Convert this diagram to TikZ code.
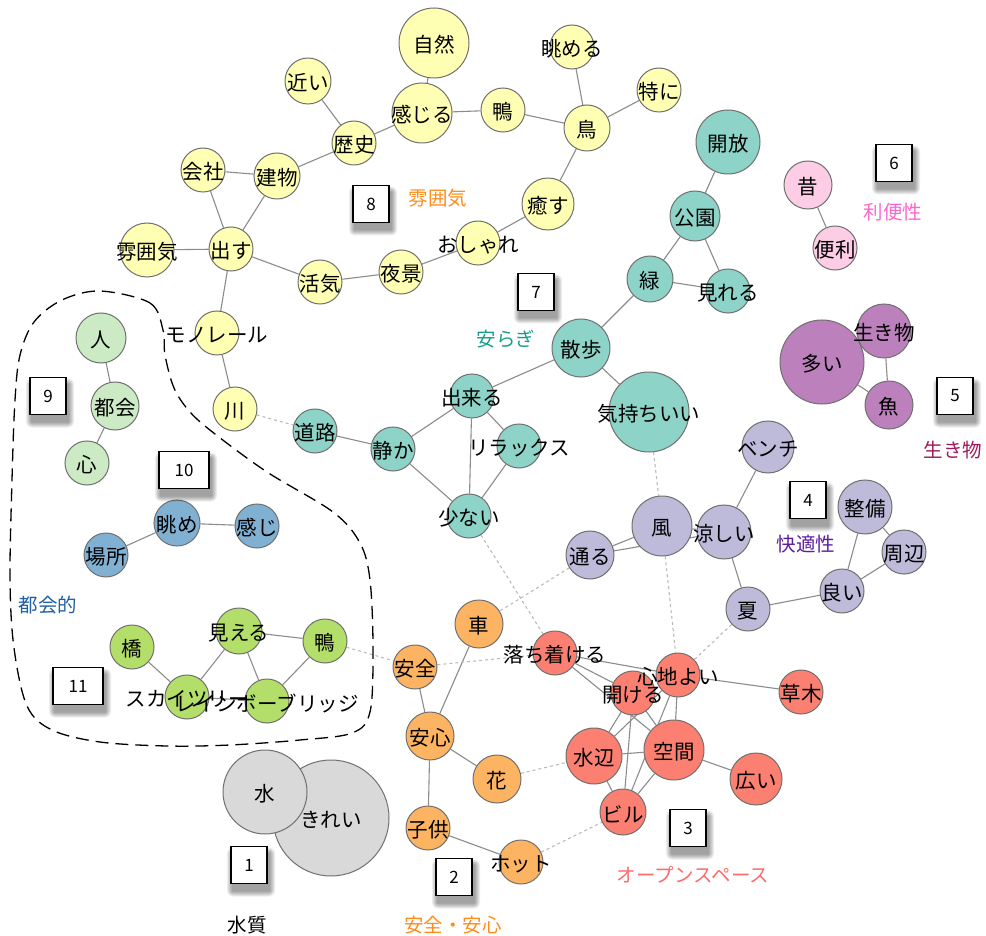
\documentclass[tikz,border=0pt]{standalone}
\usepackage{fontspec}
\newfontfamily\jp{Noto Sans CJK JP}
\usetikzlibrary{backgrounds}
\definecolor{cY}{HTML}{FFFFB3}
\definecolor{cT}{HTML}{8DD3C7}
\definecolor{cL}{HTML}{BEBADA}
\definecolor{cR}{HTML}{FB8072}
\definecolor{cB}{HTML}{80B1D3}
\definecolor{cO}{HTML}{FDB462}
\definecolor{cM}{HTML}{B3DE69}
\definecolor{cK}{HTML}{FCCDE5}
\definecolor{cW}{HTML}{D9D9D9}
\definecolor{cP}{HTML}{BC80BD}
\definecolor{cG}{HTML}{CCEBC5}
\definecolor{edgec}{HTML}{8C8C8C}
\definecolor{dotc}{HTML}{BBBBBB}
\definecolor{rimc}{HTML}{707070}
\definecolor{gOr}{HTML}{FF8C1A}
\definecolor{gPk}{HTML}{FF66CC}
\definecolor{gTl}{HTML}{1A9A8E}
\definecolor{gMa}{HTML}{9E1A5C}
\definecolor{gVi}{HTML}{5B1D9E}
\definecolor{gSa}{HTML}{FF6B6B}
\definecolor{gBl}{HTML}{1F5FA3}
\pgfdeclarelayer{bg}
\pgfdeclarelayer{fg}
\pgfsetlayers{bg,main,fg}
\tikzset{
  wcirc/.style={circle, draw=rimc, line width=1pt, inner sep=0pt},
  lbl/.style={font=\jp\fontsize{20.5}{21}\selectfont, inner sep=0pt, yshift=-2pt},
  edge/.style={draw=edgec, line width=1.1pt},
  dotedge/.style={draw=dotc, line width=1.1pt, dash pattern=on 3pt off 3pt},
  gbox/.style={draw=black, line width=1.4pt, fill=white, inner sep=0pt,
    font=\jp\fontsize{17}{18}\selectfont},
  glab/.style={font=\jp\fontsize{19.5}{20}\selectfont, inner sep=0pt},
}
\newcommand\kwnode[6]{%
  \node[wcirc, fill=#2, minimum size=2*#5pt] (#1) at (#3,#4) {};
  \begin{pgfonlayer}{fg}\node[lbl] at (#1) {#6};\end{pgfonlayer}}
\newcommand\grpbox[5]{%
  \foreach \s in {1,...,6}{
    \fill[black, opacity=0.07, rounded corners=\s pt]
      (#2+2-#4/2-\s, #3+7-18.5-\s) rectangle (#2+2+#4/2+\s, #3+7+18.5+\s);}
  \node[gbox, minimum width=#4pt, minimum height=37pt] (#1) at (#2,#3) {#5};}
\begin{document}
\begin{tikzpicture}[x=1pt,y=-1pt]
\useasboundingbox (0,0) rectangle (986,936);
\begin{pgfonlayer}{bg}
\fill[white] (0,0) rectangle (986,936);
\end{pgfonlayer}

% yellow (8)
\kwnode{y1}{cY}{434}{43}{35}{自然}
\kwnode{y2}{cY}{422}{113}{30}{感じる}
\kwnode{y3}{cY}{308}{81}{23}{近い}
\kwnode{y4}{cY}{354}{143}{22}{歴史}
\kwnode{y5}{cY}{203}{170}{22}{会社}
\kwnode{y6}{cY}{277}{176}{23}{建物}
\kwnode{y7}{cY}{147}{250}{27}{雰囲気}
\kwnode{y8}{cY}{231}{249}{22}{出す}
\kwnode{y9}{cY}{320}{282}{22}{活気}
\kwnode{y10}{cY}{401}{272}{22}{夜景}
\kwnode{y11}{cY}{478}{243}{22}{おしゃれ}
\kwnode{y12}{cY}{503}{110}{22}{鴨}
\kwnode{y13}{cY}{572}{47}{22}{眺める}
\kwnode{y14}{cY}{659}{90}{22}{特に}
\kwnode{y15}{cY}{587}{128}{23}{鳥}
\kwnode{y16}{cY}{548}{204}{26}{癒す}
\kwnode{y17}{cY}{217}{333}{22}{モノレール}
\kwnode{y18}{cY}{235}{409}{22}{川}
% teal (7)
\kwnode{t1}{cT}{728}{142}{32}{開放}
\kwnode{t2}{cT}{695}{216}{25}{公園}
\kwnode{t3}{cT}{650}{279}{23}{緑}
\kwnode{t4}{cT}{728}{291}{22}{見れる}
\kwnode{t5}{cT}{581}{348}{29}{散歩}
\kwnode{t6}{cT}{649}{412}{40}{気持ちいい}
\kwnode{t7}{cT}{472}{396}{22}{出来る}
\kwnode{t8}{cT}{519}{446}{22}{リラックス}
\kwnode{t9}{cT}{393}{449}{22}{静か}
\kwnode{t10}{cT}{469}{516}{22}{少ない}
\kwnode{t11}{cT}{315}{431}{22}{道路}
% lavender (4)
\kwnode{l1}{cL}{662}{526}{30}{風}
\kwnode{l2}{cL}{590}{555}{24}{通る}
\kwnode{l3}{cL}{724}{532}{27}{涼しい}
\kwnode{l4}{cL}{768}{447}{26}{ベンチ}
\kwnode{l5}{cL}{748}{609}{22}{夏}
\kwnode{l6}{cL}{842}{591}{22}{良い}
\kwnode{l7}{cL}{865}{507}{27}{整備}
\kwnode{l8}{cL}{904}{552}{22}{周辺}
% purple (5)
\kwnode{p1}{cP}{822}{362}{42}{多い}
\kwnode{p2}{cP}{884}{331}{27}{生き物}
\kwnode{p3}{cP}{889}{405}{24}{魚}
% pink (6)
\kwnode{k1}{cK}{808}{185}{24}{昔}
\kwnode{k2}{cK}{835}{248}{22}{便利}
% light green (9)
\kwnode{g1}{cG}{101}{338}{25}{人}
\kwnode{g2}{cG}{115}{406}{24}{都会}
\kwnode{g3}{cG}{87}{463}{22}{心}
% blue (10)
\kwnode{b1}{cB}{177}{523}{23}{眺め}
\kwnode{b2}{cB}{257}{526}{22}{感じ}
\kwnode{b3}{cB}{106}{555}{22}{場所}
% lime (11)
\kwnode{m1}{cM}{132}{647}{22}{橋}
\kwnode{m2}{cM}{239}{631}{23}{見える}
\kwnode{m3}{cM}{325}{641}{22}{鴨}
\kwnode{m4}{cM}{187}{697}{22}{スカイツリー}
\kwnode{m5}{cM}{267}{701}{22}{レインボーブリッジ}
% orange (2)
\kwnode{o1}{cO}{479}{624}{24}{車}
\kwnode{o2}{cO}{415}{667}{22}{安全}
\kwnode{o3}{cO}{430}{736}{24}{安心}
\kwnode{o4}{cO}{497}{779}{24}{花}
\kwnode{o5}{cO}{428}{828}{22}{子供}
\kwnode{o6}{cO}{521}{862}{22}{ホット}
% red (3)
\kwnode{r1}{cR}{555}{653}{22}{落ち着ける}
\kwnode{r2}{cR}{678}{675}{22}{心地よい}
\kwnode{r3}{cR}{633}{693}{22}{開ける}
\kwnode{r4}{cR}{801}{692}{22}{草木}
\kwnode{r5}{cR}{594}{756}{28}{水辺}
\kwnode{r6}{cR}{674}{750}{30}{空間}
\kwnode{r7}{cR}{756}{779}{26}{広い}
\kwnode{r8}{cR}{623}{812}{23}{ビル}
% gray (1)
\kwnode{w2}{cW}{331}{818}{58}{きれい}
\kwnode{w1}{cW}{265}{792}{42}{水}

\begin{pgfonlayer}{bg}
\foreach \a/\b in {y1/y2,y2/y12,y12/y15,y15/y13,y15/y14,y15/y16,y16/y11,y11/y10,
  y10/y9,y9/y8,y8/y7,y8/y5,y8/y6,y5/y6,y6/y4,y4/y2,y4/y3,y8/y17,y17/y18,
  t1/t2,t2/t3,t2/t4,t3/t4,t3/t5,t5/t7,t5/t6,t7/t9,t7/t8,t7/t10,t9/t10,t8/t10,t9/t11,
  l1/l2,l2/l3,l1/l3,l3/l4,l3/l5,l5/l6,l6/l7,l6/l8,l7/l8,
  p1/p2,p1/p3,p2/p3,k1/k2,g1/g2,g2/g3,b1/b2,b1/b3,
  m1/m4,m2/m4,m2/m5,m2/m3,m3/m5,m4/m5,
  o1/o3,o2/o3,o3/o4,o3/o5,o5/o6,
  r1/r2,r1/r3,r1/r6,r2/r4,r2/r6,r2/r8,r2/r5,r3/r5,r3/r8,r3/r6,r5/r6,r5/r8,r6/r8,r6/r7}
  \draw[edge] (\a) -- (\b);
\foreach \a/\b in {y18/t11,t6/l1,t10/r1,l2/o1,l5/r2,l1/r2,m3/o2,o2/r1,o4/r5,o6/r8}
  \draw[dotedge] (\a) -- (\b);
\end{pgfonlayer}

% dashed outline around groups 9-11
\draw[line width=1.3pt, dash pattern=on 13pt off 7pt]
  plot[smooth cycle, tension=0.55] coordinates {
  (100,291) (150,303) (163,330) (165,355) (174,388) (190,412) (215,434)
  (267,472) (333,512) (360,543) (370,580) (373,648) (370,712) (352,733)
  (300,740) (230,745) (167,746) (100,742) (52,730) (27,706) (14,648)
  (10,580) (12,480) (15,400) (20,355) (34,322) (62,300)};

% group boxes
\grpbox{n1}{249}{865}{36}{1}
\grpbox{n2}{454}{877}{36}{2}
\grpbox{n3}{688}{828}{36}{3}
\grpbox{n4}{808}{500}{36}{4}
\grpbox{n5}{955}{396}{36}{5}
\grpbox{n6}{894}{163}{36}{6}
\grpbox{n7}{536}{292}{36}{7}
\grpbox{n8}{371}{204}{36}{8}
\grpbox{n9}{48}{396}{36}{9}
\grpbox{n10}{184}{470}{50}{10}
\grpbox{n11}{78}{686}{50}{11}

% group labels
\node[glab, text=black] (q1) at (247,925) {水質};
\node[glab, text=gOr] (q2) at (453,925) {安全・安心};
\node[glab, text=gSa] (q3) at (693,875) {オープンスペース};
\node[glab, text=gVi] (q4) at (806,544) {快適性};
\node[glab, text=gMa] (q5) at (953,450) {生き物};
\node[glab, text=gPk] (q6) at (893,212) {利便性};
\node[glab, text=gTl] (q7) at (506,339) {安らぎ};
\node[glab, text=gOr] (q8) at (438,198) {雰囲気};
\node[glab, text=gBl] (q9) at (48,605) {都会的};
\end{tikzpicture}
\end{document}
